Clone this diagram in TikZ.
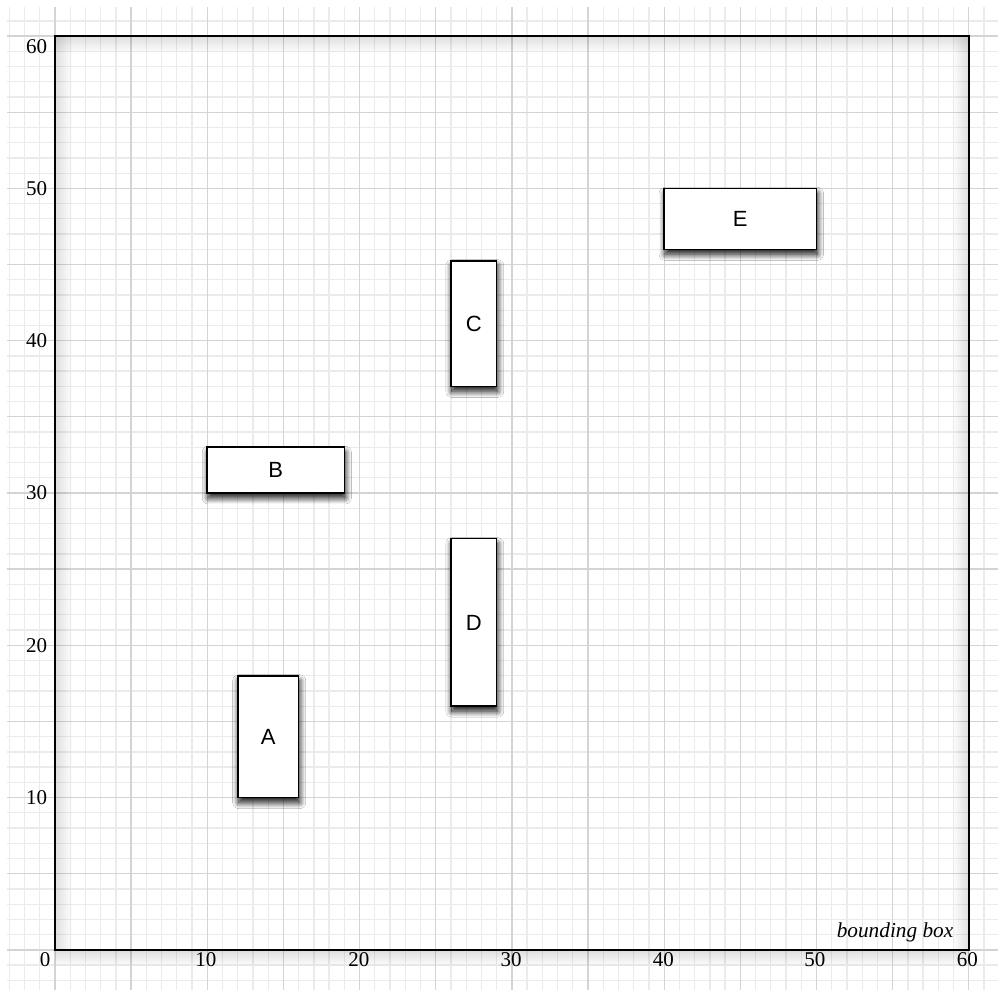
\documentclass[tikz,border=0pt]{standalone}
\usepackage{fontspec}
\setmainfont{Liberation Serif}
\newfontfamily\boxfont{Liberation Sans}
\usetikzlibrary{shadows.blur,fadings}
\newlength\ulen
\setlength\ulen{15.23pt}
\tikzfading[name=fadeR, left color=transparent!0, right color=transparent!100]
\tikzfading[name=fadeL, left color=transparent!100, right color=transparent!0]
\tikzfading[name=fadeD, top color=transparent!0, bottom color=transparent!100]
\tikzset{
  minorgrid/.style={draw=black!8, line width=1.3pt},
  majorgrid/.style={draw=black!17, line width=1.3pt},
  frame/.style={draw=black, line width=1.8pt},
  rbox/.style={draw=black, fill=white, line width=1.6pt, inner sep=0pt, outer sep=0pt,
    font=\boxfont\fontsize{22}{26}\selectfont,
    blur shadow={shadow xshift=1pt, shadow yshift=-5pt, shadow blur radius=6pt, shadow blur steps=20, shadow opacity=95}},
  axlab/.style={font=\fontsize{21}{24}\selectfont, inner sep=0pt},
  band/.style={fill=black, opacity=0.13}
}
\begin{document}
\begin{tikzpicture}[x=\ulen,y=\ulen]
\useasboundingbox (-3.61,-2.63) rectangle (61.92,62.37);
\fill[white] (-3.61,-2.63) rectangle (61.92,62.37);
% grid
\draw[minorgrid, step=1] (-3.15,-2.63) grid (61.92,61.9);
\draw[majorgrid, step=5] (-3.15,-2.63) grid (61.92,61.9);
% soft shadows along frame
\fill[band, path fading=fadeR] (0,0) rectangle (1.1,60);
\fill[band, path fading=fadeL] (58.9,0) rectangle (60,60);
\fill[band, path fading=fadeD] (0,60) rectangle (60,58.9);
\fill[band, path fading=fadeD] (0,0) rectangle (60,-1.1);
% frame
\coordinate (o) at (0,0);
\coordinate (tr) at (60,60);
\draw[frame] (o) rectangle (tr);
% boxes
\node[rbox, minimum width=4\ulen, minimum height=8\ulen] (A) at (14,14) {A};
\node[rbox, minimum width=9\ulen, minimum height=3\ulen] (B) at (14.5,31.5) {B};
\node[rbox, minimum width=3\ulen, minimum height=8.25\ulen] (C) at (27.5,41.125) {C};
\node[rbox, minimum width=3\ulen, minimum height=11\ulen] (D) at (27.5,21.5) {D};
\node[rbox, minimum width=10\ulen, minimum height=4\ulen] (E) at (45,48) {E};
% axis labels
\node[axlab] (x0) at (-0.65,-0.65) {0};
\node[axlab] (x10) at (9.9,-0.65) {10};
\node[axlab] (x20) at (19.95,-0.65) {20};
\node[axlab] (x30) at (29.95,-0.65) {30};
\node[axlab] (x40) at (39.95,-0.65) {40};
\node[axlab] (x50) at (49.9,-0.65) {50};
\node[axlab] (x60) at (59.9,-0.65) {60};
\node[axlab, anchor=east] (y10) at (-0.5,10) {10};
\node[axlab, anchor=east] (y20) at (-0.5,20) {20};
\node[axlab, anchor=east] (y30) at (-0.5,30) {30};
\node[axlab, anchor=east] (y40) at (-0.5,40) {40};
\node[axlab, anchor=east] (y50) at (-0.5,50) {50};
\node[axlab, anchor=east] (y60) at (-0.5,59.3) {60};
\node[axlab, anchor=base east, font=\itshape\fontsize{21.3}{24}\selectfont] (bb) at (59.0,0.79) {bounding box};
\end{tikzpicture}
\end{document}
